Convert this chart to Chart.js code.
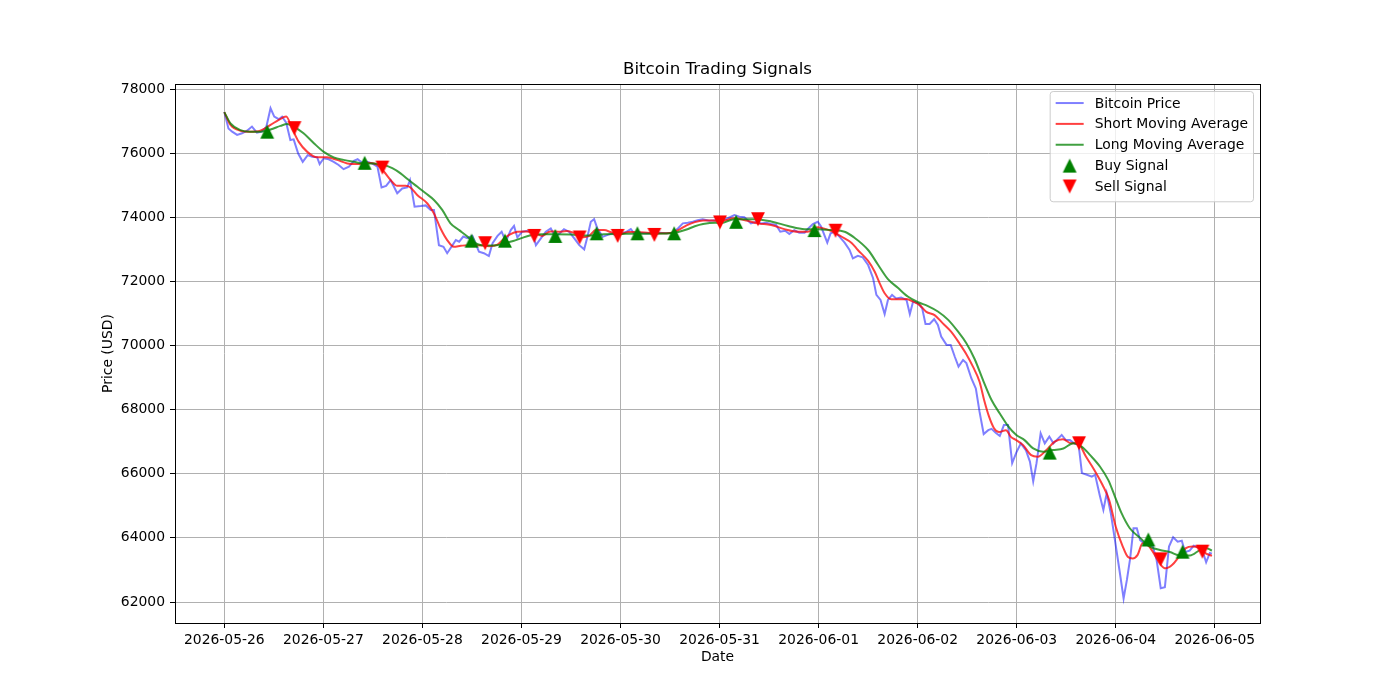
<!DOCTYPE html>
<html>
<head>
<meta charset="utf-8">
<title>Bitcoin Trading Signals</title>
<script src="https://cdn.jsdelivr.net/npm/chart.js@4.4.1/dist/chart.umd.min.js"></script>
<style>
  html, body { margin: 0; padding: 0; background: #fff; }
  #chart { display: block; }
</style>
</head>
<body>
<canvas id="chart" width="1400" height="700"></canvas>
<script>
// x values are hours since 2026-05-26 00:00
const dateLabels = ['2026-05-26', '2026-05-27', '2026-05-28', '2026-05-29', '2026-05-30', '2026-05-31',
                    '2026-06-01', '2026-06-02', '2026-06-03', '2026-06-04', '2026-06-05'];
const priceTicks = [62000, 64000, 66000, 68000, 70000, 72000, 74000, 76000, 78000];

const priceHours = [0, 1, 1.9, 3.1, 4.3, 5.5, 6.7, 7.9, 9.1, 10.2, 11.2, 12.1, 13.2, 14, 15, 16, 16.8, 17.9, 19, 20.2,
  21.3, 22.5, 23.1, 24.1, 25.3, 26.5, 27.7, 28.9, 30.2, 31.4, 32.3, 33.4, 34.6, 35.8, 37.1, 38.1, 39.2, 40.3, 41.9, 43.1,
  44.3, 45, 46.1, 47.6, 48.8, 50, 50.8, 52, 53.1, 54, 55.3, 56.1, 56.9, 57.9, 58.9, 60.1, 61.7, 62.9, 64.1, 65,
  66.2, 67.2, 68.2, 69.4, 70.2, 71, 72.2, 73.5, 74.7, 75.5, 76.7, 77.9, 79.1, 80.2, 81.3, 82.3, 83.5, 84.8, 86, 87.2,
  88, 88.8, 89.6, 90.4, 91.7, 92.9, 94.1, 95.3, 96.3, 97.5, 98.5, 99.3, 100.5, 101.7, 103, 104.2, 105.4, 107, 108.6, 109.9,
  111.1, 112.3, 113.5, 114.7, 115.9, 117.5, 119.1, 120.4, 122, 123.6, 124.8, 126, 127.6, 128.9, 130.1, 131.3, 132.5, 133.7, 134.7, 135.9,
  136.9, 138.1, 139.3, 140.6, 141.5, 142.6, 143.8, 144.6, 146.1, 146.9, 147.9, 149.1, 150.3, 151.5, 152.3, 153.5, 154.7, 156, 157.2, 158,
  159, 160, 160.8, 161.8, 162.8, 164, 165.3, 166.1, 166.9, 168.1, 169.1, 169.9, 170.9, 172, 172.9, 173.7, 175, 176, 177, 177.9,
  179, 179.8, 181, 182.1, 183, 184, 185.1, 185.9, 186.9, 187.9, 188.9, 189.9, 190.9, 191.9, 193, 194.2, 195.2, 196, 196.8, 197.8,
  198.8, 199.9, 200.9, 201.9, 202.9, 203.9, 204.9, 205.9, 207, 207.8, 209, 210.2, 211, 212.1, 213, 213.8, 214.8, 215.8, 216.9, 217.9,
  218.7, 219.5, 220.3, 221.1, 221.9, 222.9, 223.9, 225, 225.9, 226.9, 227.9, 228.9, 229.9, 231, 232, 232.8, 233.9, 234.9, 236.1, 236.9,
  237.9, 238.8, 239.3];
const priceValues = [77280, 76770, 76670, 76570, 76620, 76700, 76830, 76640, 76670, 76830, 77400, 77140, 77060, 77140, 76950, 76410, 76430, 75990, 75730, 75940,
  75890, 75870, 75660, 75840, 75810, 75730, 75630, 75500, 75580, 75760, 75810, 75700, 75730, 75680, 75580, 74930, 74980, 75160, 74750, 74900,
  74930, 75160, 74330, 74350, 74370, 74230, 74230, 73130, 73080, 72880, 73130, 73290, 73240, 73400, 73350, 73420, 72930, 72880, 72790, 73190,
  73420, 73550, 73240, 73600, 73730, 73370, 73550, 73580, 73500, 73130, 73340, 73550, 73650, 73390, 73500, 73630, 73550, 73340, 73130, 73000,
  73400, 73860, 73940, 73650, 73390, 73450, 73500, 73390, 73500, 73550, 73630, 73500, 73520, 73500, 73500, 73500, 73520, 73500, 73520, 73650,
  73810, 73830, 73860, 73910, 73940, 73890, 73910, 73890, 73970, 74070, 74020, 74000, 73810, 73860, 73810, 73830, 73790, 73760, 73550, 73580,
  73480, 73600, 73520, 73520, 73650, 73790, 73860, 73710, 73210, 73500, 73550, 73390, 73210, 72980, 72720, 72800, 72750, 72510, 72100, 71580,
  71420, 70980, 71420, 71580, 71470, 71500, 71420, 70980, 71370, 71320, 71160, 70670, 70670, 70820, 70640, 70280, 70020, 70020, 69650, 69340,
  69550, 69450, 68980, 68660, 67930, 67240, 67360, 67400, 67280, 67180, 67520, 67520, 66330, 66660, 66950, 66740, 66380, 65760, 66330, 67260,
  66950, 67160, 66950, 67080, 67210, 67050, 67050, 66950, 66900, 66020, 65970, 65910, 65970, 65340, 64870, 65390, 64770, 63930, 62990, 62110,
  62690, 63370, 64300, 64300, 63930, 63830, 63830, 63730, 63310, 62430, 62460, 63730, 64020, 63880, 63910, 63560, 63600, 63760, 63700, 63650,
  63240, 63530, 63510];

const shortHours = [0, 1.5, 3.9, 6.3, 8.7, 11.2, 13.2, 15, 16.4, 18, 20.1, 22.5, 24.9, 27.3, 29.8, 32.2, 34.6, 37.1, 38.7, 40.3,
  41.9, 43.9, 45.1, 46.8, 49.2, 50.8, 52.4, 54, 55.6, 57.3, 59, 61, 63, 64.1, 66.2, 67.5, 69, 71, 73, 75,
  77, 79, 81, 83, 85, 87, 88.5, 90, 92, 94, 96, 98, 100, 103, 106, 108, 110, 112, 114, 116,
  118, 120.4, 123.6, 126.8, 129.2, 132.5, 135.7, 139, 141.4, 143.8, 145.8, 148.2, 149.5, 152, 153.5, 156, 157.6, 158.8, 160, 161.6,
  164, 165.3, 166.9, 168.5, 170.1, 172.1, 174.1, 176.1, 178.1, 179.8, 181.4, 183, 184.1, 185.3, 186.5, 187.7, 189.4, 190.6, 191.9, 193.5,
  195.5, 197.1, 199.2, 201.2, 203.2, 205.2, 206.8, 208.8, 210.8, 212.8, 214.4, 216, 217.7, 218.9, 220.1, 221.3, 222.5, 224.1, 225.7, 226.9,
  228.1, 229.7, 231.3, 233, 234.6, 236.2, 237.8, 239.3];
const shortValues = [77280, 76880, 76700, 76670, 76700, 76880, 77040, 77140, 76770, 76360, 76040, 75870, 75870, 75790, 75680, 75660, 75700, 75630, 75420, 75160,
  74980, 74980, 74930, 74690, 74430, 74120, 73650, 73290, 73080, 73110, 73130, 73130, 73120, 73100, 73150, 73300, 73450, 73550, 73560, 73520,
  73420, 73560, 73550, 73570, 73500, 73380, 73430, 73600, 73600, 73520, 73480, 73540, 73540, 73510, 73500, 73510, 73600, 73750, 73850, 73900,
  73900, 73880, 73970, 73890, 73810, 73760, 73630, 73550, 73550, 73690, 73630, 73500, 73400, 73200, 72980, 72640, 72300, 71940, 71630, 71440,
  71440, 71450, 71370, 71260, 71050, 70950, 70690, 70430, 70070, 69730, 69340, 68870, 68300, 67780, 67420, 67300, 67360, 67150, 67050, 66900,
  66580, 66530, 66740, 67000, 67080, 66950, 66950, 66530, 66120, 65650, 65180, 64350, 63730, 63410, 63360, 63470, 63830, 63730, 63410, 63160,
  63050, 63160, 63410, 63680, 63730, 63680, 63520, 63440];

const longHours = [0, 1.5, 3.9, 6.3, 8.7, 11.2, 13.6, 15.2, 16.8, 19.2, 21.7, 24.1, 26.5, 28.9, 31.4, 33.8, 36.2, 38.7, 40.7, 42.7,
  44.7, 46.8, 48.8, 50.8, 52.8, 54.8, 56.9, 58.9, 60.1, 63, 66, 68, 70, 72, 74, 77, 80, 84, 88, 92,
  96, 100, 104, 108, 110, 112, 114, 116, 119, 120.4, 123.6, 128.5, 132.5, 136.6, 140.6, 143.8, 147.1, 150.3, 152.5, 156,
  158.4, 160.8, 163.2, 165.7, 168.1, 170.5, 172.9, 175.4, 177.8, 179.8, 181.8, 183.9, 185.9, 187.9, 190, 191.9, 193.9, 196, 198.4, 200.8,
  203.3, 205.7, 207.8, 209.8, 212.2, 214.2, 215.8, 217.4, 219.4, 221.9, 224.3, 226.7, 229.1, 231.5, 234, 236.4, 238, 239.3];
const longValues = [77280, 76930, 76720, 76670, 76670, 76740, 76850, 76910, 76830, 76620, 76310, 76040, 75870, 75790, 75730, 75680, 75680, 75630, 75530, 75370,
  75160, 74950, 74750, 74540, 74230, 73810, 73600, 73400, 73250, 73120, 73130, 73200, 73260, 73350, 73430, 73470, 73470, 73460, 73430, 73470,
  73480, 73490, 73490, 73500, 73540, 73620, 73720, 73790, 73830, 73820, 73940, 73940, 73870, 73730, 73630, 73630, 73600, 73550, 73380, 72980,
  72520, 72070, 71800, 71520, 71350, 71230, 71060, 70800, 70430, 70070, 69580, 68900, 68300, 67880, 67470, 67210, 67050, 66790, 66690, 66740,
  66790, 66950, 66840, 66580, 66220, 65800, 65290, 64770, 64300, 64000, 63730, 63620, 63560, 63450, 63450, 63620, 63680, 63600];

const buyHours = [10.4, 34.0, 59.9, 68.0, 80.2, 90.2, 100.1, 109.0, 124.0, 143.0, 200.0, 223.9, 232.2];
const buyPrices = [76670, 75700, 73270, 73270, 73420, 73500, 73500, 73500, 73860, 73600, 66660, 63950, 63570];
const sellHours = [17.0, 38.3, 63.2, 75.1, 86.1, 95.3, 104.2, 120.1, 129.3, 148.1, 207.1, 226.9, 237.0];
const sellPrices = [76780, 75550, 73190, 73420, 73370, 73420, 73450, 73840, 73940, 73580, 66950, 63330, 63570];

const font = 'DejaVu Sans';

// matplotlib style triangle markers
function triangle(color, up) {
  const c = document.createElement('canvas');
  c.width = 16; c.height = 16;
  const g = c.getContext('2d');
  g.fillStyle = color;
  g.beginPath();
  if (up) {
    g.moveTo(8, 1.05); g.lineTo(14.95, 14.95); g.lineTo(1.05, 14.95);
  } else {
    g.moveTo(1.05, 1.05); g.lineTo(14.95, 1.05); g.lineTo(8, 14.95);
  }
  g.closePath();
  g.fill();
  return c;
}
const buyMarker = triangle('#008000', true);
const sellMarker = triangle('#ff0000', false);

function pairs(xs, ys) {
  return xs.map((x, i) => ({ x: x, y: ys[i] }));
}

const frameAndLegend = {
  id: 'frameAndLegend',
  afterDatasetsDraw(chart) {
    const { ctx, chartArea: a } = chart;
    ctx.save();
    ctx.strokeStyle = '#000';
    ctx.lineWidth = 1;
    ctx.strokeRect(Math.round(a.left) + 0.5, Math.round(a.top) + 0.5,
      Math.round(a.right - a.left), Math.round(a.bottom - a.top));
    ctx.restore();
  },
  afterDraw(chart) {
    const { ctx, chartArea: a } = chart;
    const sets = chart.data.datasets;
    ctx.save();
    ctx.font = '13.9px "' + font + '"';
    const textW = Math.max(...sets.map(d => ctx.measureText(d.label).width));
    const rowH = 20.85;
    const w = textW + 50;
    const h = rowH * sets.length + 6;
    const right = a.right - 7;
    const left = right - w;
    const top = a.top + 7;

    ctx.beginPath();
    ctx.roundRect(left + 0.5, top + 0.5, w, h, 3);
    ctx.fillStyle = 'rgba(255,255,255,0.8)';
    ctx.fill();
    ctx.strokeStyle = '#cccccc';
    ctx.lineWidth = 1;
    ctx.stroke();

    sets.forEach((d, i) => {
      const cy = top + 12 + i * rowH;
      const hx0 = left + 6, hx1 = left + 34;
      if (d.showLine === false) {
        const img = d.pointStyle;
        ctx.drawImage(img, (hx0 + hx1) / 2 - img.width / 2, cy - img.height / 2);
      } else {
        ctx.beginPath();
        ctx.moveTo(hx0, cy);
        ctx.lineTo(hx1, cy);
        ctx.strokeStyle = d.borderColor;
        ctx.lineWidth = d.borderWidth;
        ctx.stroke();
      }
      ctx.fillStyle = '#000';
      ctx.textBaseline = 'middle';
      ctx.textAlign = 'left';
      ctx.fillText(d.label, left + 45, cy + 1);
    });
    ctx.restore();
  }
};

new Chart(document.getElementById('chart').getContext('2d'), {
  type: 'line',
  data: {
    datasets: [
      {
        label: 'Bitcoin Price',
        data: pairs(priceHours, priceValues),
        borderColor: 'rgba(0,0,255,0.5)',
        borderWidth: 2,
        pointRadius: 0,
        tension: 0,
        order: 5
      },
      {
        label: 'Short Moving Average',
        data: pairs(shortHours, shortValues),
        borderColor: 'rgba(255,0,0,0.75)',
        borderWidth: 2,
        pointRadius: 0,
        cubicInterpolationMode: 'monotone',
        order: 4
      },
      {
        label: 'Long Moving Average',
        data: pairs(longHours, longValues),
        borderColor: 'rgba(0,128,0,0.75)',
        borderWidth: 2,
        pointRadius: 0,
        cubicInterpolationMode: 'monotone',
        order: 3
      },
      {
        label: 'Buy Signal',
        data: pairs(buyHours, buyPrices),
        showLine: false,
        pointStyle: buyMarker,
        pointRadius: 7,
        order: 2
      },
      {
        label: 'Sell Signal',
        data: pairs(sellHours, sellPrices),
        showLine: false,
        pointStyle: sellMarker,
        pointRadius: 7,
        order: 1
      }
    ]
  },
  options: {
    responsive: false,
    animation: false,
    events: [],
    layout: { padding: { left: 95, right: 140, top: 0, bottom: 17 } },
    plugins: {
      legend: { display: false },
      tooltip: { enabled: false },
      title: {
        display: true,
        fullSize: false,
        text: 'Bitcoin Trading Signals',
        color: '#000',
        font: { family: font, size: 16.7, weight: 'normal' },
        padding: { top: 60, bottom: 4 }
      }
    },
    scales: {
      x: {
        type: 'linear',
        min: -11.95,
        max: 250.95,
        afterFit: s => { s.height = 60; },
        afterBuildTicks: s => { s.ticks = dateLabels.map((_, i) => ({ value: i * 24 })); },
        ticks: {
          autoSkip: false,
          maxRotation: 0,
          padding: 4,
          color: '#000',
          font: { family: font, size: 13.9 },
          callback: (v) => dateLabels[Math.round(v / 24)]
        },
        grid: { color: '#b0b0b0', lineWidth: 1, tickColor: '#000', tickLength: 5 },
        border: { display: false },
        title: {
          display: true,
          text: 'Date',
          color: '#000',
          font: { family: font, size: 13.9 },
          padding: { bottom: 17 }
        }
      },
      y: {
        type: 'linear',
        min: 61345,
        max: 78156,
        afterFit: s => { s.width = 80; },
        afterBuildTicks: s => { s.ticks = priceTicks.map(v => ({ value: v })); },
        ticks: {
          padding: 5,
          color: '#000',
          font: { family: font, size: 13.9 },
          callback: v => String(v)
        },
        grid: { color: '#b0b0b0', lineWidth: 1, tickColor: '#000', tickLength: 5 },
        border: { display: false },
        title: {
          display: true,
          text: 'Price (USD)',
          color: '#000',
          font: { family: font, size: 13.9 },
          padding: { top: 5 }
        }
      }
    }
  },
  plugins: [frameAndLegend]
});
</script>
</body>
</html>
